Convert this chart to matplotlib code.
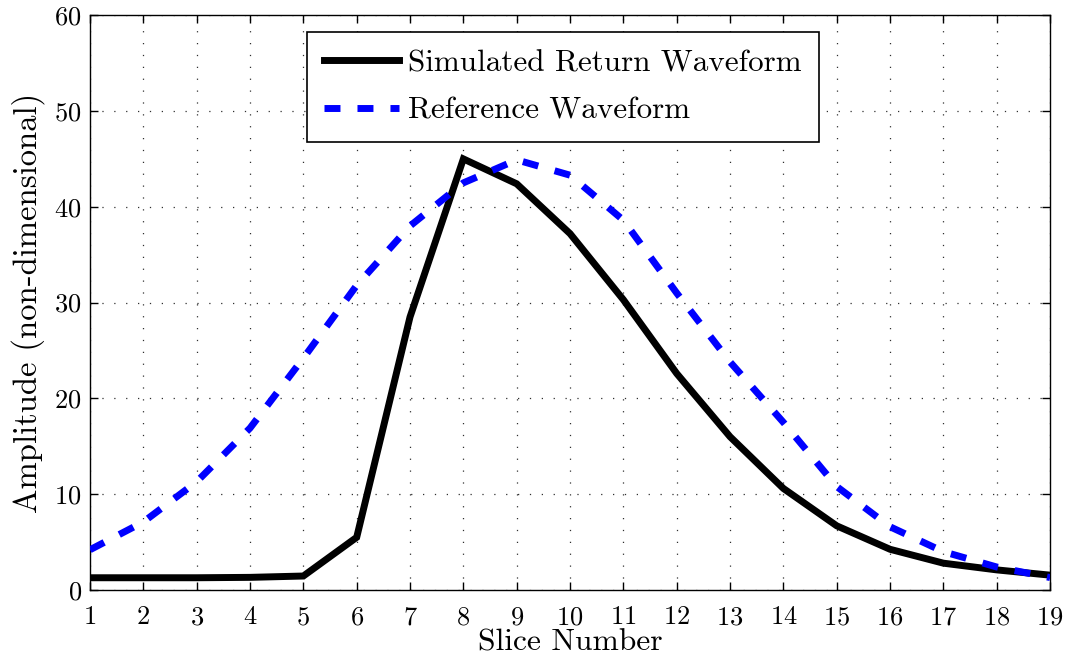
import matplotlib
matplotlib.use("Agg")
import matplotlib.pyplot as plt

plt.rcParams["font.family"] = ["cmr10", "DejaVu Serif"]
plt.rcParams["mathtext.fontset"] = "cm"
plt.rcParams["axes.formatter.use_mathtext"] = True

slices = list(range(1, 20))
simulated = [1.28, 1.28, 1.28, 1.32, 1.46, 5.5, 28.5, 45.0, 42.4, 37.2,
             30.3, 22.6, 16.0, 10.6, 6.7, 4.25, 2.8, 2.1, 1.55]
reference = [4.2, 7.1, 11.3, 16.9, 24.2, 31.8, 38.0, 42.5, 44.9, 43.3,
             38.6, 31.0, 23.8, 17.5, 10.8, 6.6, 4.0, 2.4, 1.3]

fig = plt.figure(figsize=(10.65, 6.61), dpi=100)
ax = fig.add_axes([0.0845, 0.1074, 0.9015, 0.8696])

ax.plot(slices, simulated, color="black", lw=5.0, solid_joinstyle="miter",
        label="Simulated Return Waveform", zorder=3)
ax.plot(slices, reference, color="#0000ff", lw=5.0, dashes=(2.3, 2.45),
        dash_capstyle="butt", label="Reference Waveform", zorder=4)

ax.set_xlim(1, 19)
ax.set_ylim(0, 60)
ax.set_xticks(slices)
ax.set_yticks(range(0, 61, 10))
ax.tick_params(direction="in", top=True, right=True, length=6, width=1,
               labelsize=19)
ax.tick_params(axis="x", pad=11)
ax.tick_params(axis="y", pad=6)
ax.grid(True, linestyle=(0, (1, 8.5)), color="#303030", lw=0.9)
for s in ax.spines.values():
    s.set_linewidth(1.0)

ax.set_xlabel("Slice Number", fontsize=22.7, labelpad=0)
ax.set_ylabel("Amplitude (non-dimensional)", fontsize=23.5, labelpad=7)

leg = ax.legend(loc="upper left", bbox_to_anchor=(0.226, 0.97),
                fontsize=22.4, handlelength=2.4, handletextpad=0.3,
                borderpad=0.55, borderaxespad=0, labelspacing=0.62,
                fancybox=False, framealpha=1, edgecolor="black")
leg.get_frame().set_linewidth(1.2)

fig.savefig("out.png", dpi=100)
